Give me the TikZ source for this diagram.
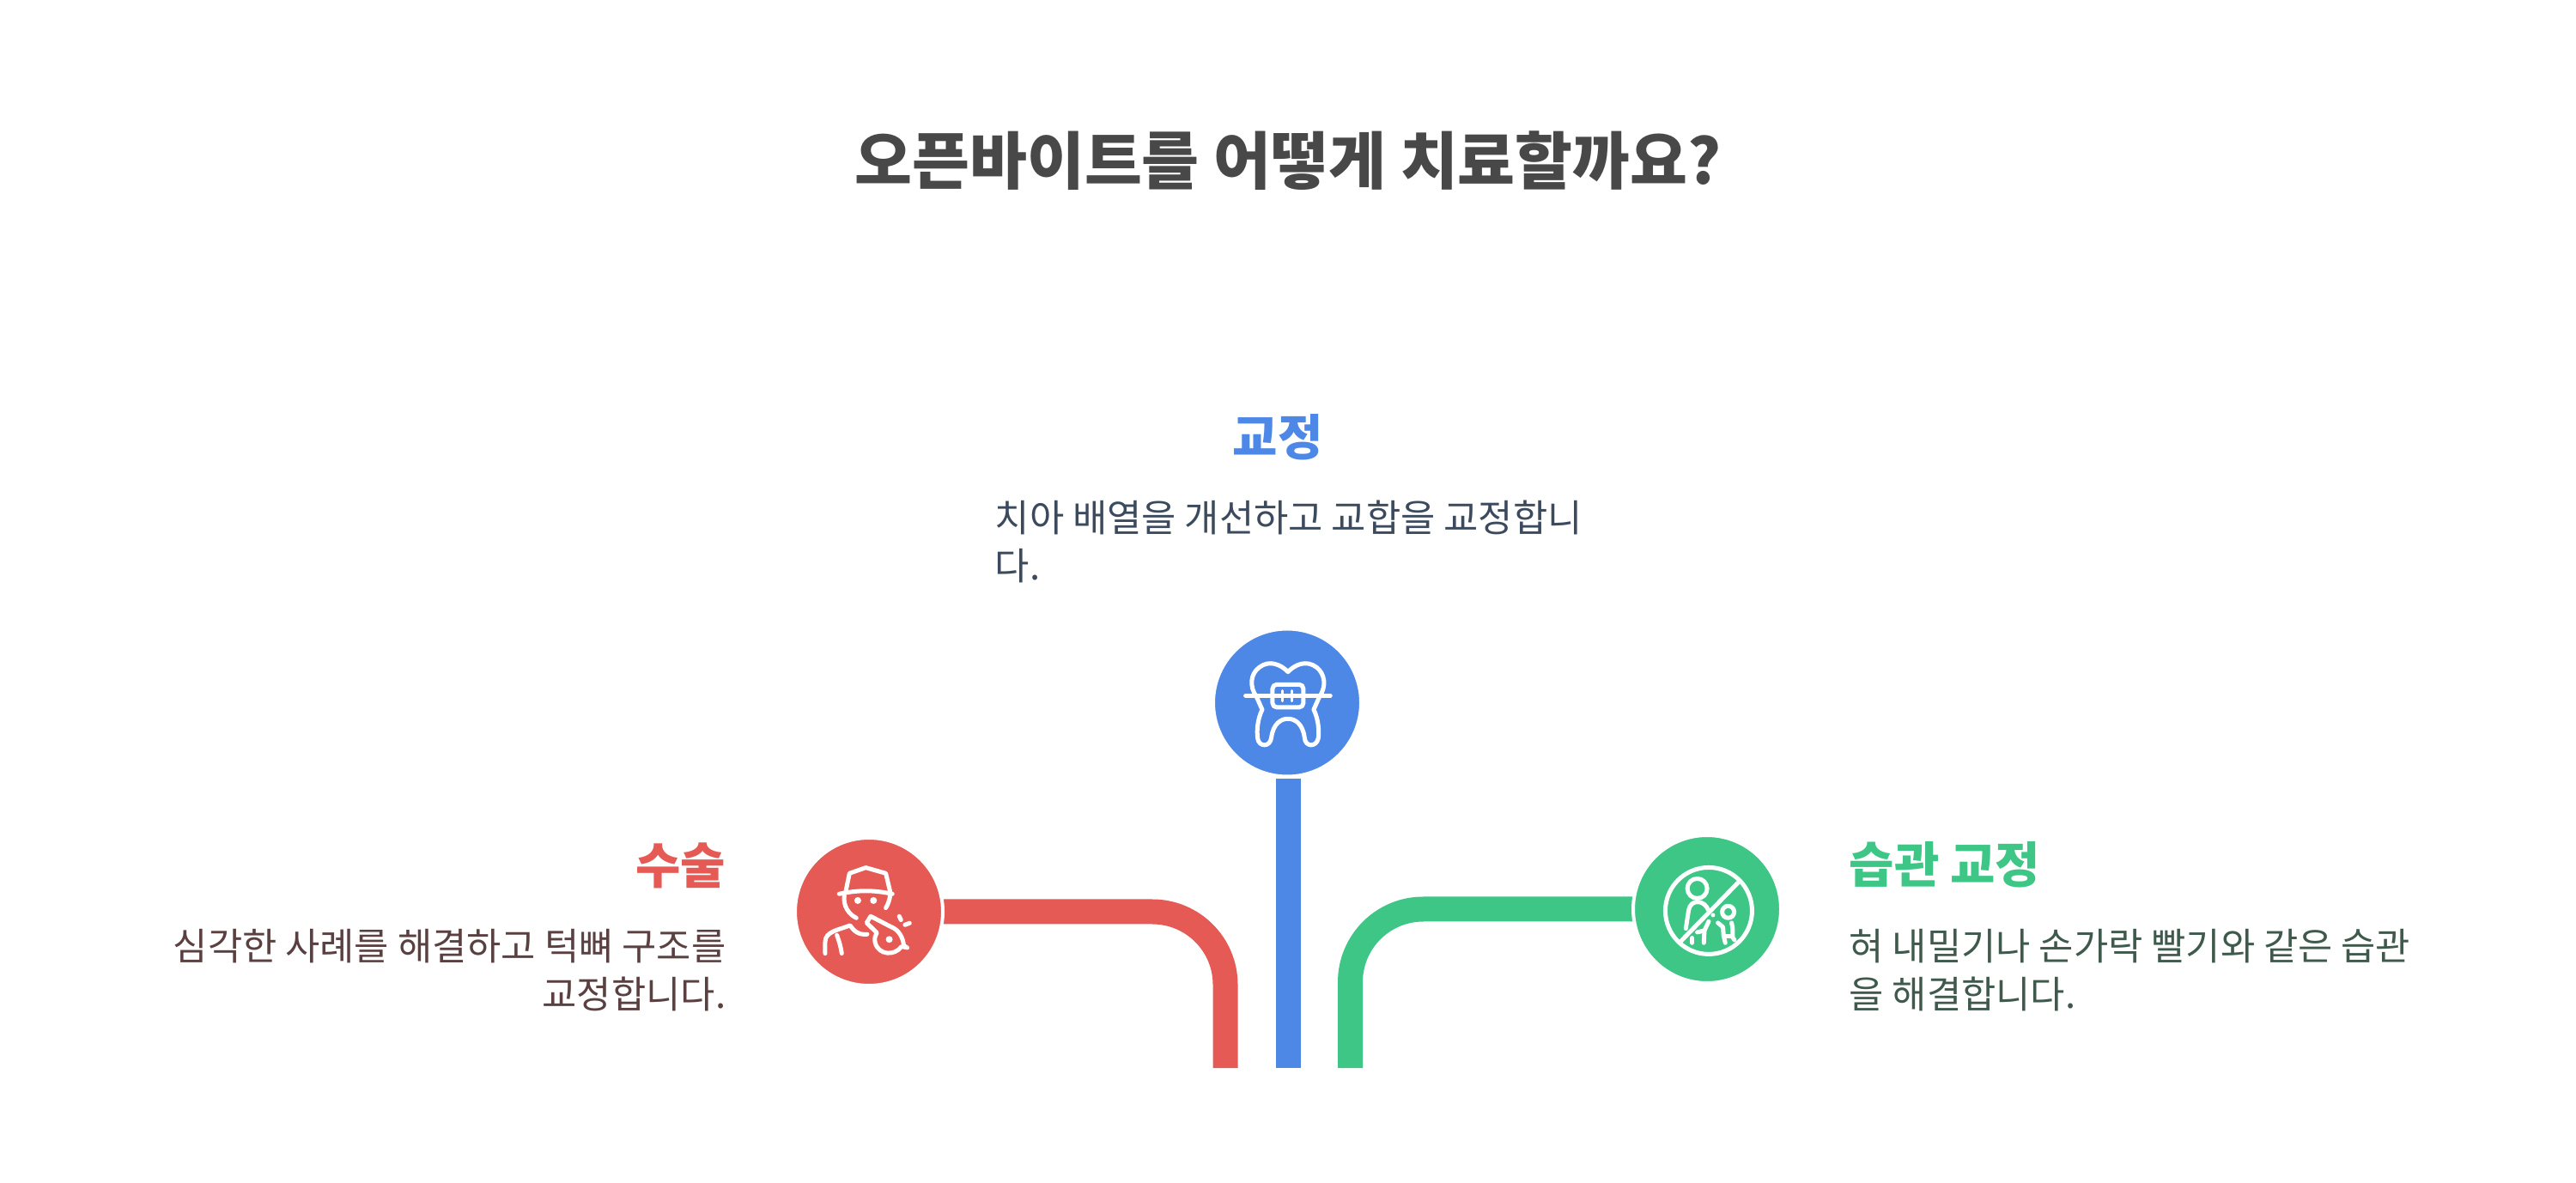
\documentclass[tikz,border=0pt]{standalone}
\usepackage{fontspec}
\setmainfont{Noto Sans CJK KR}
\usetikzlibrary{backgrounds}
\definecolor{titlegray}{HTML}{484848}
\definecolor{redmain}{HTML}{E55A54}
\definecolor{bluemain}{HTML}{4E88E7}
\definecolor{greenmain}{HTML}{3EC686}
\definecolor{redtext}{HTML}{5A4040}
\definecolor{bluetext}{HTML}{3B4A5C}
\definecolor{greentext}{HTML}{3F5A4C}
\tikzset{
  iconcircle/.style={circle, minimum size=1.72cm, inner sep=0pt, draw=white, line width=0.04cm},
  bar/.style={line width=0.29cm, rounded corners=0.85cm},
  headtext/.style={inner sep=0pt, font=\fontsize{16.2}{19}\selectfont\bfseries},
  bodytext/.style={inner sep=0pt, font=\fontsize{12.46}{15.9}\selectfont},
  iconline/.style={white, line width=0.05cm, line cap=round, line join=round},
}
\begin{document}
\begin{tikzpicture}[x=1cm,y=1cm]
\useasboundingbox (0,0) rectangle (30,13.77);
\node[inner sep=0pt, text=titlegray, font=\fontsize{20.7}{24}\selectfont\bfseries] (titletext) at (15.0,11.9) {오픈바이트를 어떻게 치료할까요?};

% the three circles
\node[iconcircle, fill=bluemain] (braces) at (14.99,5.585) {};
\node[iconcircle, fill=redmain] (surgery) at (10.12,3.15) {};
\node[iconcircle, fill=greenmain] (habit) at (19.88,3.18) {};

% connectors
\coordinate (bluetop) at (15.0,4.70);
\coordinate (blueend) at (15.0,1.33);
\coordinate (redend) at (14.27,1.33);
\coordinate (greenend) at (15.725,1.33);
\begin{scope}[on background layer]
\draw[bar, redmain] (surgery.center) -| (redend);
\draw[bar, greenmain] (habit.center) -| (greenend);
\draw[bar, bluemain] (bluetop) -- (blueend);
\end{scope}

% labels
\node[headtext, text=bluemain] (bluehead) at (14.88,8.68) {교정};
\node[bodytext, text=bluetext, align=left, anchor=west] (bluebody) at (11.58,7.46) {치아 배열을 개선하고 교합을 교정합니\\다.};
\node[headtext, text=redmain, anchor=east] (redhead) at (8.46,3.69) {수술};
\node[bodytext, text=redtext, align=right, anchor=east] (redbody) at (8.46,2.47) {심각한 사례를 해결하고 턱뼈 구조를\\교정합니다.};
\node[headtext, text=greenmain, anchor=west] (greenhead) at (21.53,3.70) {습관 교정};
\node[bodytext, text=greentext, align=left, anchor=west] (greenbody) at (21.53,2.47) {혀 내밀기나 손가락 빨기와 같은 습관\\을 해결합니다.};

% tooth with braces
\begin{scope}[shift={(13.80,6.77)}, x=0.01cm/3, y=-0.01cm/3]
\draw[iconline] (360,248) .. controls (385,222) and (425,205) .. (460,232) .. controls (490,255) and (495,300) .. (470,335) -- (450,380) .. controls (465,410) and (470,450) .. (466,480) .. controls (460,512) and (420,512) .. (418,478) .. controls (412,430) and (385,412) .. (360,412) .. controls (335,412) and (308,430) .. (302,478) .. controls (298,512) and (258,512) .. (254,480) .. controls (250,450) and (255,410) .. (270,380) -- (250,335) .. controls (225,300) and (228,255) .. (260,232) .. controls (295,205) and (335,222) .. (360,248) -- cycle;
\fill[bluemain] (295,285) rectangle (422,378);
\draw[iconline, rounded corners=0.05cm] (306,292) rectangle (414,372);
\draw[iconline] (212,331) -- (508,331);
\draw[iconline, line width=0.03cm] (340,314) -- (340,350);
\draw[iconline, line width=0.03cm] (375,314) -- (375,350);
\end{scope}

% person with whistle
\begin{scope}[shift={(9.00,4.17)}, x=0.01cm/3, y=-0.01cm/3]
\draw[iconline] (255,235) -- (268,172) -- (325,152) -- (395,172) -- (410,235);
\draw[iconline] (232,244) .. controls (300,230) and (350,230) .. (418,244);
\draw[iconline] (250,250) .. controls (245,285) and (265,315) .. (292,328);
\draw[iconline] (410,250) .. controls (408,265) and (403,280) .. (395,293);
\fill[white] (297,267) circle (0.04cm) (352,267) circle (0.04cm);
\draw[iconline] (183,452) -- (183,412) .. controls (183,375) and (230,370) .. (270,354) .. controls (285,375) and (300,388) .. (330,385);
\draw[iconline] (224,388) .. controls (232,410) and (238,430) .. (241,452);
\draw[iconline] (342,322) -- (415,360) .. controls (440,370) and (455,395) .. (458,425) -- (470,432) -- (450,428) .. controls (425,462) and (370,458) .. (358,415) .. controls (354,400) and (358,390) .. (364,380) -- (328,345) -- cycle;
\fill[white] (407,403) circle (0.04cm);
\draw[iconline] (442,322) -- (448,335);
\draw[iconline] (462,352) -- (478,346);
\end{scope}

% parent and child crossed out
\begin{scope}[shift={(18.70,4.17)}, x=0.01cm/3, y=-0.01cm/3]
\draw[iconline] (360,303) circle (0.505cm);
\draw[iconline] (262,410) -- (462,205);
\draw[iconline] (320,225) circle (0.115cm);
\draw[iconline] (280,365) -- (290,300) .. controls (297,262) and (345,262) .. (360,303);
\draw[iconline] (302,398) -- (302,415);
\draw[iconline] (360,340) -- (345,372) -- (320,378);
\draw[iconline] (345,372) -- (343,415);
\fill[white] (375,318) circle (0.025cm);
\draw[iconline] (428,307) circle (0.07cm);
\draw[iconline] (392,345) -- (410,360) -- (412,390) -- (418,415);
\draw[iconline] (440,345) .. controls (445,365) and (445,380) .. (443,395) -- (450,405);
\draw[iconline] (412,392) -- (443,392);
\end{scope}
\end{tikzpicture}
\end{document}
